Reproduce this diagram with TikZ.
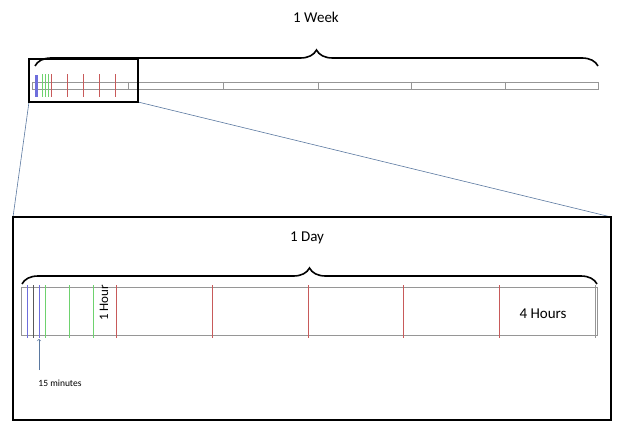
\documentclass[tikz,border=0pt]{standalone}
\usepackage{fontspec}
\setmainfont{Carlito}
\usetikzlibrary{decorations.pathreplacing}
\definecolor{cred}{RGB}{200,90,90}
\definecolor{cgreen}{RGB}{110,210,110}
\definecolor{cblue}{RGB}{110,110,220}
\definecolor{cline}{RGB}{90,120,160}
\definecolor{cgray}{RGB}{150,150,150}
\begin{document}
\begin{tikzpicture}[x=1pt,y=-1pt,
  strip/.style={draw=cgray, line width=0.8pt},
  box/.style={draw=black, line width=1.6pt},
  bigbrace/.style={draw=black, line width=1.6pt, decorate, decoration={brace, amplitude=16pt}},
  zoomline/.style={draw=cline, line width=0.6pt},
  tdark/.style={draw=gray!70!black, line width=0.8pt}]
\useasboundingbox (0,0) rectangle (625,436);
% week strip
\draw[strip] (32,82) rectangle (598,89);
\foreach \x in {128,223,318,411,505} \draw[strip] (\x,82) -- (\x,89);
\fill[cblue] (35,75) rectangle (38,97);
\foreach \x in {42,45,48} \fill[cgreen] (\x-0.5,74) rectangle (\x+0.5,97);
\foreach \x in {51,67,83,99,115} \fill[cred] (\x-0.5,74) rectangle (\x+0.5,97);
\coordinate (s1) at (29,102);
\coordinate (s2) at (138,102);
\coordinate (b1) at (13,217);
\coordinate (b2) at (611,217);
\draw[zoomline] (s1) -- (b1);
\draw[zoomline] (s2) -- (b2);
\draw[box] (29,59) rectangle (138,102);
\draw[bigbrace] (35,66) -- (598,66);
\node[font=\fontsize{15}{17}\selectfont] (week) at (316,17) {1 Week};
% day
\draw[box] (13,217) rectangle (611,420);
\draw[strip] (21,287) rectangle (597,335);
\foreach \x in {27,39} \fill[cblue] (\x-0.5,285) rectangle (\x+0.5,338);
\draw[tdark] (33,285) -- (33,338);
\foreach \x in {45,69,93} \fill[cgreen] (\x-0.5,285) rectangle (\x+0.5,338);
\foreach \x in {116,212,308,403,499} \fill[cred] (\x-0.5,285) rectangle (\x+0.5,338);
\draw[strip] (595,285) -- (595,338);
\draw[bigbrace] (22,284) -- (597,284);
\node[font=\fontsize{15}{17}\selectfont] (day) at (307,238) {1 Day};
\node[rotate=90, font=\fontsize{13}{15}\selectfont] (hour) at (104,303) {1 Hour};
\node[font=\fontsize{15}{17}\selectfont] (four) at (543,314) {4 Hours};
\node[font=\fontsize{9.5}{11}\selectfont] (min) at (60,383) {15 minutes};
\coordinate (arrtip) at (39,339);
\draw[->, draw=cline, line width=0.6pt] (39,370) -- (arrtip);
\end{tikzpicture}
\end{document}
